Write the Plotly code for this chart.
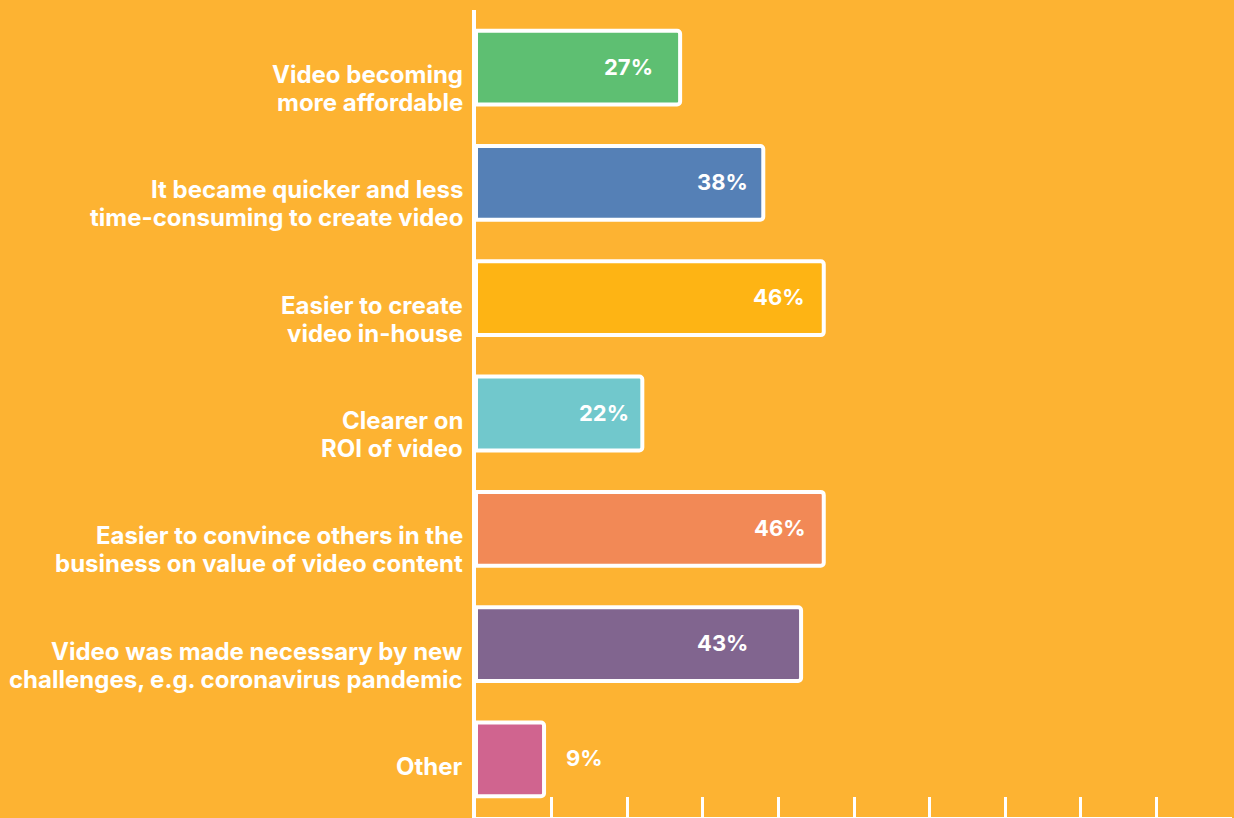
import plotly.graph_objects as go

# Survey answers, top to bottom
categories = [
    "Video becoming<br>more affordable",
    "It became quicker and less<br>time-consuming to create video",
    "Easier to create<br>video in-house",
    "Clearer on<br>ROI of video",
    "Easier to convince others in the<br>business on value of video content",
    "Video was made necessary by new<br>challenges, e.g. coronavirus pandemic",
    "Other",
]
values = [27, 38, 46, 22, 46, 43, 9]
value_labels = ["27%", "38%", "46%", "22%", "46%", "43%", "9%"]

bar_colors = ["#5EBF72", "#5580B6", "#FEB414", "#71C8CC", "#F28956", "#81658F", "#D0648F"]
BG = "#FDB332"
WHITE = "#FFFFFF"
FONT = "Inter"

# horizontal pixel offset of each value label from the bar end
label_shift = [-25, -13, -17, -11, -16, -51, 20]
LINE_GAP = 28  # px between lines of a category label

fig = go.Figure()
fig.add_trace(go.Bar(
    x=values,
    y=categories,
    orientation="h",
    marker=dict(color=bar_colors, line=dict(color=WHITE, width=4), cornerradius=3),
    hoverinfo="skip",
))

annotations = []
# category labels, one annotation per line for tighter leading
for cat in categories:
    for i, line in enumerate(cat.split("<br>")):
        annotations.append(dict(
            x=0, xref="paper", xanchor="right", xshift=-11,
            y=cat, yref="y", yanchor="middle", yshift=-7 - i * LINE_GAP,
            text=line, showarrow=False, align="right",
            font=dict(family=FONT, size=24, color=WHITE, weight=700),
        ))
for cat, v, lab, dx in zip(categories, values, value_labels, label_shift):
    annotations.append(dict(
        x=v, xref="x", xanchor="right" if dx < 0 else "left", xshift=dx,
        y=cat, yref="y", yanchor="middle", yshift=1,
        text=lab, showarrow=False,
        font=dict(family=FONT, size=22, color=WHITE, weight=700),
    ))

fig.update_layout(
    width=1234, height=818,
    margin=dict(l=476, r=2, t=10, b=1, pad=0),
    paper_bgcolor=BG, plot_bgcolor=BG,
    bargap=0.36,
    showlegend=False,
    annotations=annotations,
    xaxis=dict(
        range=[0, 100], dtick=10, tick0=0,
        showgrid=False, zeroline=False,
        showline=True, linecolor=WHITE, linewidth=4,
        ticks="inside", ticklen=20, tickwidth=3, tickcolor=WHITE,
        showticklabels=False, fixedrange=True,
    ),
    yaxis=dict(
        autorange="reversed",
        showgrid=False, zeroline=False,
        showline=True, linecolor=WHITE, linewidth=4,
        ticks="", showticklabels=False, fixedrange=True,
    ),
)

fig.write_html("out.html", config={"displayModeBar": False})
